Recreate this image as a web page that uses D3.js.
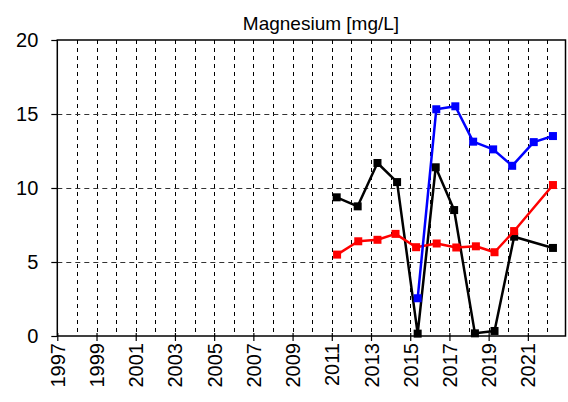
<!DOCTYPE html>
<html><head><meta charset="utf-8">
<script src="https://cdn.jsdelivr.net/npm/d3@7"></script>
<style>body{margin:0;background:#fff;} svg{display:block;font-family:"Liberation Sans",Arial,sans-serif;}</style>
</head><body>
<svg id="c" width="568" height="402"></svg>
<script>
const title = "Magnesium [mg/L]";
const yTicks = [0, 5, 10, 15, 20];
const xTickYears = [1997,1999,2001,2003,2005,2007,2009,2011,2013,2015,2017,2019,2021];
const gridYears = d3.range(1998, 2023);

const blackDates = [2011.25, 2012.32, 2013.33, 2014.33, 2015.38, 2016.3, 2017.24, 2018.3, 2019.3, 2020.3, 2022.28];
const blackValues = [9.37, 8.76, 11.69, 10.4, 0.16, 11.4, 8.51, 0.18, 0.34, 6.71, 5.95];
const redDates = [2011.27, 2012.35, 2013.33, 2014.25, 2015.3, 2016.35, 2017.35, 2018.35, 2019.3, 2020.3, 2022.28];
const redValues = [5.5, 6.4, 6.5, 6.9, 6.0, 6.25, 5.98, 6.06, 5.66, 7.09, 10.2];
const blueDates = [2015.38, 2016.33, 2017.3, 2018.21, 2019.23, 2020.2, 2021.3, 2022.28];
const blueValues = [2.55, 15.32, 15.52, 13.13, 12.61, 11.5, 13.1, 13.51];

const series = [
  {color:"#000000", dates:blackDates, values:blackValues},
  {color:"#ff0000", dates:redDates, values:redValues},
  {color:"#0000ff", dates:blueDates, values:blueValues}
];

const svg = d3.select("#c");
const L = 57.3, R = 565.5, T = 40, B = 336;
const x = d3.scaleLinear().domain([1997, 2022.92]).range([L, R]);
const y = d3.scaleLinear().domain([0, 20]).range([B, T]);

// gridlines
svg.append("g").selectAll("line").data(gridYears).join("line")
  .attr("x1", d => Math.round(x(d))+0.5).attr("x2", d => Math.round(x(d))+0.5)
  .attr("y1", T).attr("y2", B)
  .attr("stroke", "#000").attr("stroke-width", 1).attr("stroke-dasharray", "4,4");
svg.append("g").selectAll("line").data(yTicks.filter(d => d > 0 && d < 20)).join("line")
  .attr("x1", L).attr("x2", R)
  .attr("y1", d => Math.round(y(d))+0.5).attr("y2", d => Math.round(y(d))+0.5)
  .attr("stroke", "#333").attr("stroke-width", 1).attr("stroke-dasharray", "5,4");

// frame
svg.append("rect").attr("x", L).attr("y", T).attr("width", R-L).attr("height", B-T)
  .attr("fill", "none").attr("stroke", "#000").attr("stroke-width", 1.5);

// y axis
const yAxis = d3.axisLeft(y).tickValues(yTicks).tickSize(6).tickPadding(13);
const gy = svg.append("g").attr("transform", `translate(${L},0)`).call(yAxis);
gy.select(".domain").remove();
gy.selectAll(".tick line").attr("stroke-width", 1.2);
gy.selectAll(".tick text").attr("font-size", 20).attr("font-family", "Liberation Sans, Arial, sans-serif").attr("fill", "#000");

// x axis
const xAxis = d3.axisBottom(x).tickValues(xTickYears).tickFormat(d3.format("d")).tickSize(5).tickPadding(6);
const gx = svg.append("g").attr("transform", `translate(0,${B})`).call(xAxis);
gx.select(".domain").remove();
gx.selectAll(".tick line").attr("y1", -3).attr("stroke-width", 1.2);
gx.selectAll(".tick text")
  .attr("font-size", 20).attr("font-family", "Liberation Sans, Arial, sans-serif").attr("fill", "#000")
  .attr("transform", "rotate(-90)")
  .attr("text-anchor", "end")
  .attr("x", -7).attr("y", 0).attr("dy", "0.35em");

// series
const line = d3.line().x(d => x(d[0])).y(d => y(d[1]));
series.forEach(s => {
  const pts = s.dates.map((d, i) => [d, s.values[i]]);
  svg.append("path").datum(pts).attr("d", line)
    .attr("fill", "none").attr("stroke", s.color).attr("stroke-width", 2.5).attr("stroke-linejoin", "round");
  svg.append("g").selectAll("rect").data(pts).join("rect")
    .attr("x", d => x(d[0]) - 4).attr("y", d => y(d[1]) - 4)
    .attr("width", 8).attr("height", 8).attr("fill", s.color);
});

// title
svg.append("text").attr("x", 321).attr("y", 30).attr("text-anchor", "middle")
  .attr("font-size", 19).attr("fill", "#000").text(title);
</script>
</body></html>
